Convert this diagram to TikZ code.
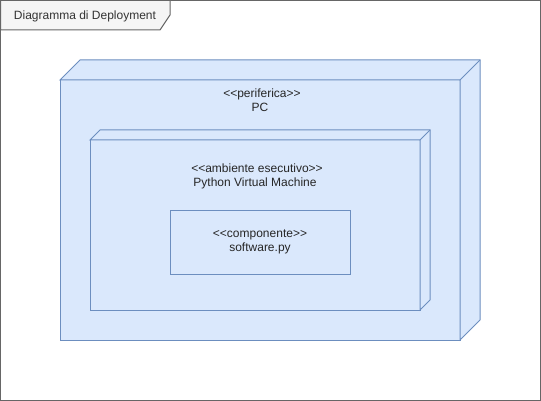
\documentclass[tikz,border=0pt]{standalone}
\usepackage{fontspec}
\setmainfont{Liberation Sans}
\definecolor{boxfill}{HTML}{DAE8FC}
\definecolor{boxline}{HTML}{6C8EBF}
\definecolor{framegray}{HTML}{666666}
\definecolor{tabfill}{HTML}{F5F5F5}
\definecolor{tabtext}{HTML}{333333}
\begin{document}
\begin{tikzpicture}[x=1pt,y=-1pt,
  every node/.style={outer sep=0pt, inner sep=0pt, font=\fontsize{12}{14}\selectfont, text=black!85},
  face/.style={draw=boxline, fill=boxfill, line width=1pt},
  label/.style={anchor=base}]
\useasboundingbox (0,0) rectangle (541,401);
\draw[framegray, line width=1pt] (0.5,0.5) rectangle (540.5,400.5);
\draw[framegray, fill=tabfill, line width=1pt] (0.5,0.5) -- (170,0.5) -- (170,15) -- (160,30) -- (0.5,30) -- cycle;
\node[label, text=tabtext] (title) at (85,19.5) {Diagramma di Deployment};

\node[face, minimum width=400pt, minimum height=260pt] (pc) at (260,210) {};
\draw[face] (pc.north west) -- ++(20,-20) -- ++(400,0) -- ++(0,260) -- (pc.south east) -- (pc.north east) -- cycle;
\draw[face, fill=none] (pc.north east) -- ++(20,-20);
\node[label] (pcst) at (262,98) {<{}<periferica>{}>};
\node[label] (pcname) at (260,112) {PC};

\node[face, minimum width=330pt, minimum height=170pt] (pvm) at (255,225) {};
\draw[face] (pvm.north west) -- ++(10,-10) -- ++(330,0) -- ++(0,170) -- (pvm.south east) -- (pvm.north east) -- cycle;
\draw[face, fill=none] (pvm.north east) -- ++(10,-10);
\node[label] (pvmst) at (257,172.5) {<{}<ambiente esecutivo>{}>};
\node[label] (pvmname) at (255,186.5) {Python Virtual Machine};

\node[face, minimum width=180pt, minimum height=64pt] (sw) at (260,242) {};
\node[label] (swst) at (260,237.5) {<{}<componente>{}>};
\node[label] (swname) at (260,251.5) {software.py};
\end{tikzpicture}
\end{document}
